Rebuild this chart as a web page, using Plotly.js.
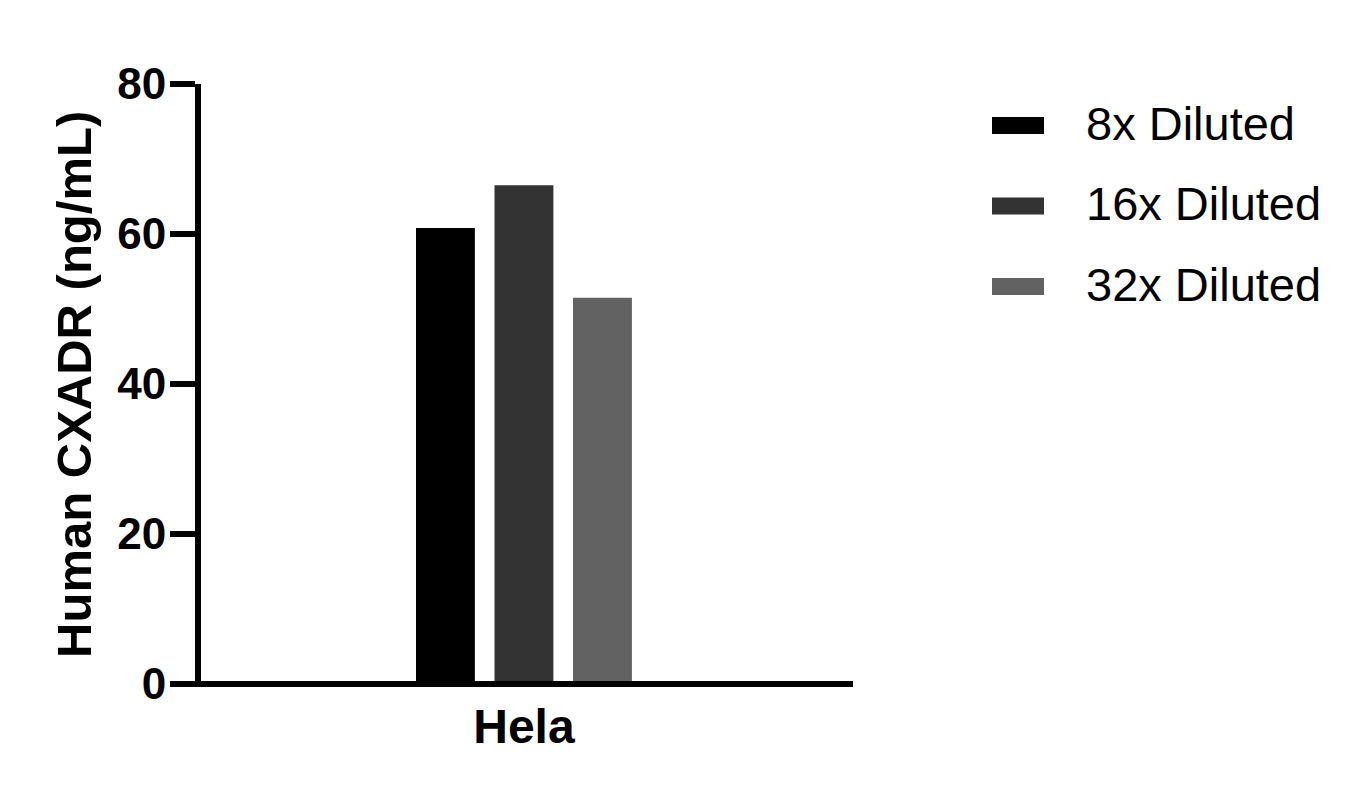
<!DOCTYPE html>
<html>
<head>
<meta charset="utf-8">
<script src="https://cdn.plot.ly/plotly-3.0.1.min.js"></script>
<style>html,body{margin:0;padding:0;background:#fff;}#chart{width:1368px;height:804px;}</style>
</head>
<body>
<div id="chart"></div>
<script>
// ---- data ----
const categories = ["Hela"];
const seriesNames = ["8x Diluted", "16x Diluted", "32x Diluted"];
const seriesValues = [[60.8], [66.5], [51.5]];
const seriesColors = ["#000000", "#333333", "#626262"];
const yTickValues = [0, 20, 40, 60, 80];
const yTitle = "Human CXADR (ng/mL)";

// ---- geometry helpers (pixel -> paper) ----
const W = 1368, H = 804;
const mL = 173, mR = 515, mT = 84, mB = 120;
const pw = W - mL - mR, ph = H - mT - mB;
const px = x => (x - mL) / pw;
const py = y => (H - mB - y) / ph;

const FONT = "Liberation Sans, Arial, Helvetica, sans-serif";

const traces = seriesNames.map((n, i) => ({
  type: "bar",
  name: n,
  x: categories,
  y: seriesValues[i],
  marker: {color: seriesColors[i], line: {width: 0}},
  showlegend: false,
  hoverinfo: "x+y+name"
}));

const shapes = [
  // x axis baseline (paper coords so it is not clipped)
  {type: "line", xref: "paper", yref: "paper", x0: 0, x1: 1, y0: 0, y1: 0,
   line: {color: "#000", width: 6}, layer: "above"}
];
const annotations = [
  {text: yTitle, xref: "paper", yref: "paper", x: px(73.4), y: py(384.5),
   xanchor: "center", yanchor: "middle", textangle: -90, showarrow: false,
   font: {family: FONT, size: 49, color: "#000", weight: "bold"}}
];
const rowY = [125.5, 206, 286.5];
seriesNames.forEach((n, i) => {
  shapes.push({type: "rect", xref: "paper", yref: "paper",
    x0: px(992), x1: px(1044), y0: py(rowY[i] - 8.5), y1: py(rowY[i] + 8.5),
    fillcolor: seriesColors[i], line: {width: 0}});
  annotations.push({text: n, xref: "paper", yref: "paper", x: px(1084), y: py(rowY[i] - 2),
    xanchor: "left", yanchor: "middle", showarrow: false,
    font: {family: FONT, size: 47, color: "#000"}});
});

const layout = {
  width: W, height: H,
  margin: {l: mL, r: mR, t: mT, b: mB, pad: 0},
  paper_bgcolor: "#fff", plot_bgcolor: "#fff",
  showlegend: false,
  barmode: "group",
  bargap: 0.5,
  bargroupgap: 0.25,
  font: {family: FONT, color: "#000"},
  xaxis: {
    type: "category",
    range: [-0.745, 0.6985],
    showline: false, showgrid: false, zeroline: false,
    ticks: "",
    ticklabelstandoff: 10,
    tickfont: {family: FONT, size: 48, color: "#000", weight: "bold"},
    fixedrange: true
  },
  yaxis: {
    range: [0, 80],
    anchor: "free",
    position: px(198),
    tickvals: yTickValues,
    ticktext: yTickValues.map(String),
    ticks: "outside", ticklen: 25, tickwidth: 6, tickcolor: "#000",
    ticklabelstandoff: -5,
    showline: true, linewidth: 6, linecolor: "#000",
    showgrid: false, zeroline: false,
    tickfont: {family: FONT, size: 44, color: "#000", weight: "bold"},
    fixedrange: true
  },
  shapes: shapes,
  annotations: annotations
};

Plotly.newPlot("chart", traces, layout, {displayModeBar: false, staticPlot: true});
</script>
</body>
</html>
